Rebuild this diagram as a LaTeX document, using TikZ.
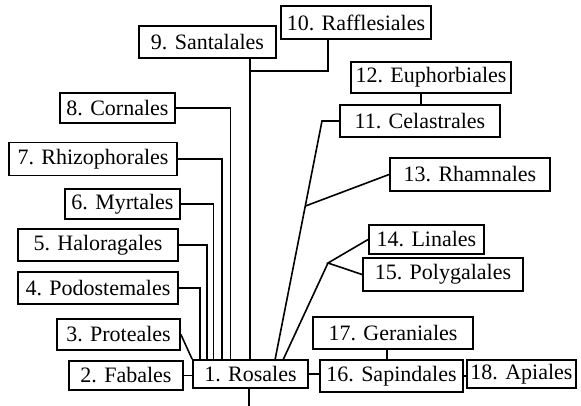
\documentclass[tikz,border=0pt]{standalone}
\usepackage{fontspec}
\setmainfont{Liberation Serif}
\usetikzlibrary{calc}
\begin{document}
\begin{tikzpicture}[x=1pt,y=-1pt,
  box/.style={draw, line width=1.8pt, inner sep=0pt, fill=white,
    font=\fontsize{22}{24}\selectfont},
  link/.style={line width=1.6pt}]
\useasboundingbox (0,0) rectangle (581,406);
% order boxes
\node[box, minimum width=115pt, minimum height=28pt] (n1) at (250.5,374) {1. Rosales};
\node[box, minimum width=114pt, minimum height=29pt] (n2) at (126,375.5) {2. Fabales};
\node[box, minimum width=123pt, minimum height=31pt] (n3) at (118.5,334.5) {3. Proteales};
\node[box, minimum width=160pt, minimum height=32pt] (n4) at (98,288) {4. Podostemales};
\node[box, minimum width=160pt, minimum height=32pt] (n5) at (98,245) {5. Haloragales};
\node[box, minimum width=115pt, minimum height=30pt] (n6) at (122.5,204) {6. Myrtales};
\node[box, minimum width=168pt, minimum height=33pt] (n7) at (93,159) {7. Rhizophorales};
\node[box, minimum width=115pt, minimum height=30pt] (n8) at (117.5,108) {8. Cornales};
\node[box, minimum width=137pt, minimum height=32pt] (n9) at (207.5,42) {9. Santalales};
\node[box, minimum width=150pt, minimum height=33pt] (n10) at (356,22.5) {10. Rafflesiales};
\node[box, minimum width=160pt, minimum height=32pt] (n11) at (420,121) {11. Celastrales};
\node[box, minimum width=160pt, minimum height=31pt] (n12) at (431,77.5) {12. Euphorbiales};
\node[box, minimum width=160pt, minimum height=33pt] (n13) at (470,174.5) {13. Rhamnales};
\node[box, minimum width=115pt, minimum height=29pt] (n14) at (426.5,239.5) {14. Linales};
\node[box, minimum width=160pt, minimum height=33pt] (n15) at (443,274.5) {15. Polygalales};
\node[box, minimum width=143pt, minimum height=32pt] (n16) at (391.5,376) {16. Sapindales};
\node[box, minimum width=160pt, minimum height=32pt] (n17) at (393,333) {17. Geraniales};
\node[box, minimum width=109pt, minimum height=28pt] (n18) at (521.5,374) {18. Apiales};

% bend and junction points
\coordinate (v4) at (200,360);
\coordinate (v5) at (207,360);
\coordinate (v6) at (213.5,360);
\coordinate (v7) at (222,360);
\coordinate (v8) at (230.5,360);
\coordinate (r10) at (328,71);
\coordinate (c12) at (421,0);
\coordinate (k11) at (322,121);
\coordinate (f11) at (275,360);
\coordinate (j13) at ($(k11)!0.356!(f11)$);
\coordinate (j14) at (328,263);
\coordinate (f14) at (283,360);
\coordinate (c17) at (387,0);
\coordinate (stem) at (249,406);

% connectors
\draw[link] (n2.east) -- (n2.east -| n1.west);
\draw[link] (n3.east) -- (n1.north west);
\draw[link] (n4.east) -| (v4);
\draw[link] (n5.east) -| (v5);
\draw[link] (n6.east) -| (v6);
\draw[link] (n7.east) -| (v7);
\draw[link] (n8.east) -| (v8);
\draw[link] (n9.south -| 250,0) -- (n1.north -| 250,0);
\draw[link] (r10 |- n10.south) -- (r10) -- (250,71);
\draw[link] (c12 |- n12.south) -- (c12 |- n11.north);
\draw[link] (n11.west) -- (n11.west -| k11) -- (f11);
\draw[link] (n13.west) -- (j13);
\draw[link] (n14.west) -- (j14) -- (n15.west);
\draw[link] (j14) -- (f14);
\draw[link] (c17 |- n17.south) -- (c17 |- n16.north);
\draw[link] (n1.east) -- (n1.east -| n16.west);
\draw[link] (n16.east) -- (n16.east -| n18.west);
\draw[link] (stem |- n1.south) -- (stem);
\end{tikzpicture}
\end{document}
